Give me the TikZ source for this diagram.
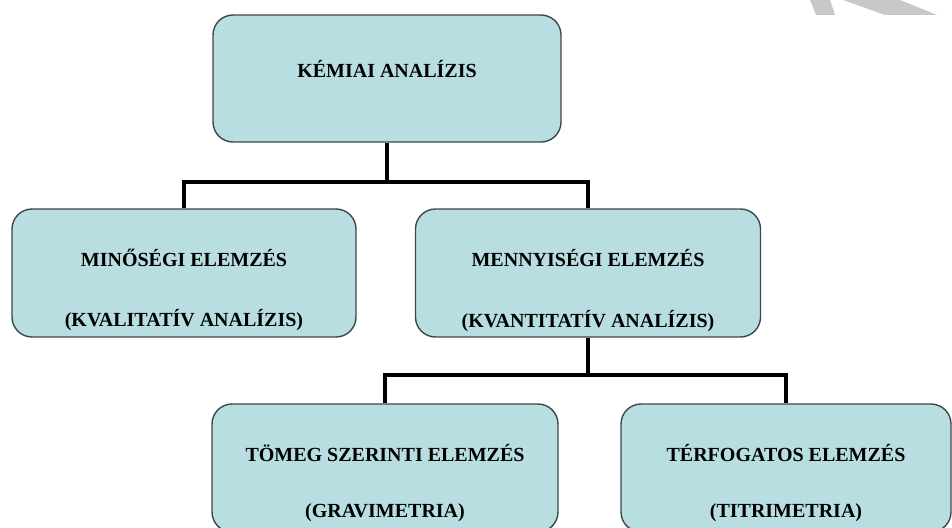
\documentclass[tikz,border=0pt]{standalone}
\usepackage{fontspec}
\setmainfont{Liberation Serif}
\usetikzlibrary{positioning}
\definecolor{boxblue}{RGB}{184,222,226}
\definecolor{boxline}{RGB}{62,72,74}
\definecolor{markgray}{RGB}{200,200,200}

\begin{document}
\begin{tikzpicture}[x=1pt,y=-1pt,
  box/.style={draw=boxline, fill=boxblue, line width=1.4pt, rounded corners=20pt,
    minimum width=344pt, minimum height=128pt, inner sep=0pt},
  lbl/.style={font=\fontsize{20}{24}\selectfont\bfseries, inner sep=0pt},
  link/.style={line width=3.5pt}]
\useasboundingbox (0,0) rectangle (952,527);
\clip (0,0) rectangle (952,527);
\fill[white] (0,0) rectangle (952,527);

% grey marks in the corner
\fill[markgray] (810,0) -- (830,0) -- (835,15) -- (816,15) -- cycle;
\fill[markgray] (843,0) -- (900,0) -- (937,15) -- (885,15) -- cycle;

% boxes
\node[box, minimum width=348pt, minimum height=127pt] (chem) at (387,78.5) {};
\node[box] (qual) at (184,273) {};
\node[box, minimum width=345pt] (quant) at (588,273) {};
\node[box, minimum width=346pt] (grav) at (385,468) {};
\node[box, minimum width=330pt] (titr) at (786,468) {};

% connectors
\coordinate (fork1) at (387,182);
\coordinate (fork2) at (588,375);
\draw[link] (chem.south) -- (fork1);
\draw[link] (qual.north) |- (fork1) -| (quant.north);
\draw[link] (quant.south) -- (fork2);
\draw[link] (grav.north) |- (fork2) -| (titr.north);

% texts
\node[lbl, on grid, below=46pt of chem.north] (chemtxt) {KÉMIAI ANALÍZIS};
\node[lbl, on grid, below=41pt of qual.north] (qualtxt) {MINŐSÉGI ELEMZÉS};
\node[lbl, on grid, below=101pt of qual.north] (qualsub) {(KVALITATÍV ANALÍZIS)};
\node[lbl, on grid, below=41pt of quant.north] (quanttxt) {MENNYISÉGI ELEMZÉS};
\node[lbl, on grid, below=102pt of quant.north] (quantsub) {(KVANTITATÍV ANALÍZIS)};
\node[lbl, on grid, below=41pt of grav.north] (gravtxt) {TÖMEG SZERINTI ELEMZÉS};
\node[lbl, on grid, below=100pt of grav.north] (gravsub) {(GRAVIMETRIA)};
\node[lbl, on grid, below=41pt of titr.north] (titrtxt) {TÉRFOGATOS ELEMZÉS};
\node[lbl, on grid, below=100pt of titr.north] (titrsub) {(TITRIMETRIA)};
\end{tikzpicture}
\end{document}
